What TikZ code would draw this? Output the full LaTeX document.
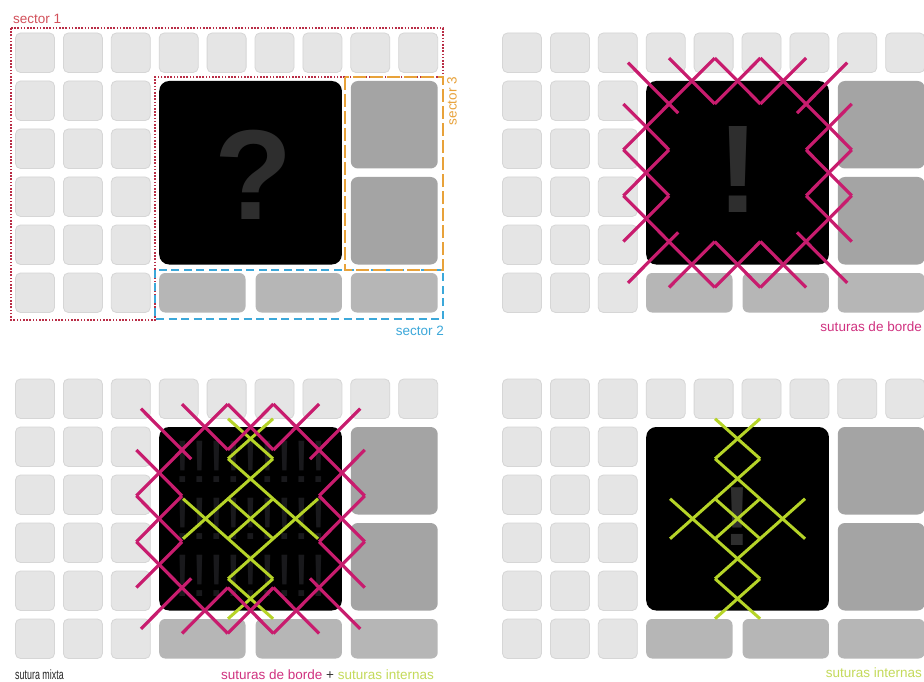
\documentclass[tikz,border=0pt]{standalone}
\usepackage{fontspec}
\setmainfont{Liberation Sans}
\definecolor{tilelight}{RGB}{229,229,229}
\definecolor{tileedge}{RGB}{214,214,214}
\definecolor{tiledark}{RGB}{164,164,164}
\definecolor{tilemid}{RGB}{182,182,182}
\definecolor{glyphgray}{RGB}{46,46,46}
\definecolor{ghostgray}{RGB}{25,25,28}
\definecolor{magst}{RGB}{200,28,110}
\definecolor{magtxt}{RGB}{208,50,128}
\definecolor{limest}{RGB}{182,212,40}
\definecolor{limetxt}{RGB}{196,218,90}
\definecolor{secone}{RGB}{185,45,70}
\definecolor{seconetxt}{RGB}{210,80,90}
\definecolor{sectwo}{RGB}{60,168,218}
\definecolor{secthree}{RGB}{232,162,58}
\tikzset{
  lighttile/.style={fill=tilelight, draw=tileedge, line width=0.8pt, rounded corners=5pt},
  darktile/.style={fill=tiledark, rounded corners=7pt},
  midtile/.style={fill=tilemid, rounded corners=6pt},
  blacksq/.style={fill=black, rounded corners=10pt},
  magline/.style={draw=magst, line width=3.2pt},
  limeline/.style={draw=limest, line width=3pt},
  lbl/.style={inner sep=0pt, font=\fontsize{13.5}{15}\selectfont},
  bigglyph/.style={inner sep=0pt, text=glyphgray, font=\bfseries\fontsize{#1}{#1}\selectfont},
  ghost/.style={inner sep=0pt, text=ghostgray, font=\fontsize{60}{60}\selectfont}
}
% tile grid of one panel, shifted by (#1,#2)
\newcommand\tilepanel[2]{%
  \begin{scope}[shift={(#1,#2)}]
    \foreach \i in {0,...,8} {\path[lighttile] ({15.5+47.9*\i},33) rectangle ++(39,39.5);}
    \foreach \j in {1,...,5} {\foreach \i in {0,1,2} {\path[lighttile] ({15.5+47.9*\i},{33+48*\j}) rectangle ++(39,39.5);}}
    \path[darktile] (350.8,81) rectangle (437.7,168.5);
    \path[darktile] (350.8,177) rectangle (437.7,264.5);
    \path[midtile] (159.2,273) rectangle (245.5,312.5);
    \path[midtile] (255.6,273) rectangle (341.9,312.5);
    \path[midtile] (350.8,273) rectangle (437.7,312.5);
    \path[blacksq] (159.2,81) rectangle (341.9,264.5);
  \end{scope}}
% border stitches round the black square whose top-left corner is (#1,#2)
\newcommand\borderstitch[2]{%
  \begin{scope}[shift={(#1,#2)}, x=22.84pt, y=-22.94pt]
    \draw[magline] (-0.8,-0.8) -- (1.4,1.4);
    \draw[magline] (8.8,-0.8) -- (6.6,1.4);
    \draw[magline] (-0.8,8.8) -- (1.4,6.6);
    \draw[magline] (8.8,8.8) -- (6.6,6.6);
    \draw[magline] (3,-1) -- (-1,3);
    \draw[magline] (5,-1) -- (9,3);
    \draw[magline] (-1,5) -- (3,9);
    \draw[magline] (9,5) -- (5,9);
    \draw[magline] (1,-1) -- (3,1);
    \draw[magline] (3,-1) -- (5,1);
    \draw[magline] (5,-1) -- (3,1);
    \draw[magline] (7,-1) -- (5,1);
    \draw[magline] (-1,1) -- (1,3);
    \draw[magline] (-1,3) -- (1,5);
    \draw[magline] (1,3) -- (-1,5);
    \draw[magline] (1,5) -- (-1,7);
    \draw[magline] (9,1) -- (7,3);
    \draw[magline] (9,3) -- (7,5);
    \draw[magline] (7,3) -- (9,5);
    \draw[magline] (7,5) -- (9,7);
    \draw[magline] (1,9) -- (3,7);
    \draw[magline] (3,9) -- (5,7);
    \draw[magline] (3,7) -- (5,9);
    \draw[magline] (5,7) -- (7,9);
  \end{scope}}
% internal stitches centred on (#1,#2)
\newcommand\innerstitch[2]{%
  \begin{scope}[shift={(#1,#2)}, x=22.5pt, y=-20pt]
    \draw[limeline] (-1,-5) -- (1,-3);
    \draw[limeline] (1,-5) -- (-1,-3);
    \draw[limeline] (-1,-3) -- (3,1);
    \draw[limeline] (1,-3) -- (-3,1);
    \draw[limeline] (-3,-1) -- (1,3);
    \draw[limeline] (3,-1) -- (-1,3);
    \draw[limeline] (-1,-1) -- (1,1);
    \draw[limeline] (1,-1) -- (-1,1);
    \draw[limeline] (-1,3) -- (1,5);
    \draw[limeline] (1,3) -- (-1,5);
  \end{scope}}
\begin{document}
\begin{tikzpicture}[x=1pt, y=-1pt]
\useasboundingbox (0,0) rectangle (924,682);
\clip (0,0) rectangle (924,682);
\fill[white] (0,0) rectangle (924,682);

% ---------- panel 1 : sectors ----------
\tilepanel{0}{0}
\node[bigglyph=128] (qmark) at (254,175) {?};
\draw[secone, line width=2.2pt, dash pattern=on 1.6pt off 1.6pt]
  (11,28) -- (443,28) -- (443,77) -- (155,77) -- (155,320) -- (11,320) -- cycle;
\draw[sectwo, line width=2.6pt, dash pattern=on 8pt off 4.5pt] (155,270) rectangle (443,319);
\draw[secthree, line width=2.8pt, dash pattern=on 13pt off 4pt] (345,77) rectangle (443,270);
\node[lbl, text=seconetxt, anchor=base west] (sone) at (13,24) {sector 1};
\node[lbl, text=sectwo, anchor=base east] (stwo) at (444,335) {sector 2};
\node[lbl, text=secthree, rotate=90] (sthree) at (452,101) {sector 3};

% ---------- panel 2 : border sutures ----------
\tilepanel{487}{0}
\node[bigglyph=125] (excl) at (738.5,170) {!};
\borderstitch{646.2}{81}
\node[lbl, text=magtxt, anchor=base east] (lborde) at (922,331) {suturas de borde};

% ---------- panel 3 : mixed ----------
\tilepanel{0}{346}
\foreach \r in {462,519,576} {
  \foreach \k in {0,...,8} {\node[ghost] at ({250.55+17*(\k-4)},\r) {!};}
}
\innerstitch{250.55}{518.75}
\borderstitch{159.2}{427}
\node[inner sep=0pt, anchor=base west, text=black!85,
  font=\fontsize{13.5}{15}\selectfont] (lmixta) at (15,679) {\scalebox{0.66}[1]{sutura mixta}};
\node[lbl, anchor=base east] (lcomb) at (434,679)
  {\textcolor{magtxt}{suturas de borde} \textcolor{black!80}{+} \textcolor{limetxt}{suturas internas}};

% ---------- panel 4 : internal sutures ----------
\tilepanel{487}{346}
\node[bigglyph=84] (exclsmall) at (737,517) {!};
\innerstitch{737.55}{518.75}
\node[lbl, text=limetxt, anchor=base east] (linternas) at (922,677) {suturas internas};
\end{tikzpicture}
\end{document}
